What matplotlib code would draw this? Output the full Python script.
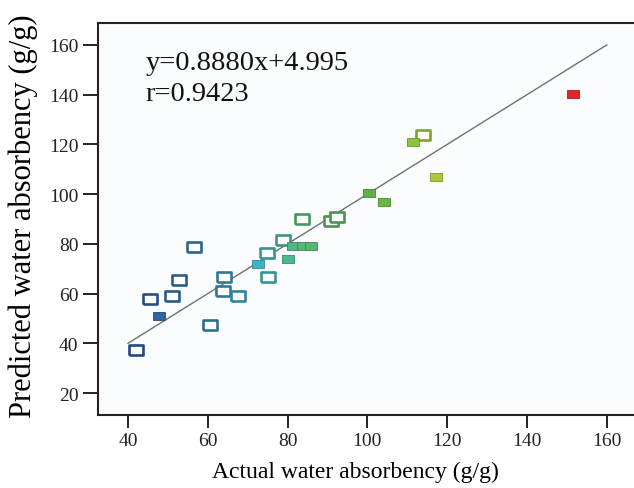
import numpy as np
import matplotlib.pyplot as plt
from matplotlib.colors import LinearSegmentedColormap

# hollow markers (actual, predicted)
hollow_x = [42.0, 45.5, 51.0, 52.9, 56.6, 60.6, 63.7, 64.1, 67.6, 74.8, 75.2,
            78.8, 83.5, 91.0, 92.3, 114.0]
hollow_y = [37.4, 57.8, 59.1, 65.3, 78.9, 47.4, 60.9, 66.5, 59.0, 76.2, 66.8,
            81.5, 90.0, 89.3, 90.9, 123.8]

# filled markers
filled_x = [47.8, 72.7, 80.2, 81.4, 83.8, 85.9, 100.5, 104.2, 111.5, 117.2, 151.4]
filled_y = [51.1, 71.9, 73.9, 79.0, 79.0, 79.0, 100.5, 97.0, 121.1, 107.0, 140.3]

x_ticks = [40, 60, 80, 100, 120, 140, 160]
y_ticks = [20, 40, 60, 80, 100, 120, 140, 160]

plt.rcParams['font.family'] = ['Liberation Serif', 'DejaVu Serif']

cmap = LinearSegmentedColormap.from_list("abs", [
    (0.00, "#2a56a0"),
    (0.17, "#3a86b4"),
    (0.28, "#3fb4c2"),
    (0.37, "#52b87a"),
    (0.54, "#5cb246"),
    (0.68, "#a8cc38"),
    (0.82, "#d07a2c"),
    (1.00, "#e8222a"),
])
lo, hi = 42, 152


def col(v):
    return cmap((v - lo) / (hi - lo))


def darker(c, f=0.82):
    return (c[0] * f, c[1] * f, c[2] * f, 1)


rect = [(-1.45, -1), (1.45, -1), (1.45, 1), (-1.45, 1), (-1.45, -1)]

fig = plt.figure(figsize=(6.34, 4.89), dpi=100)
fig.patch.set_facecolor("white")
ax = fig.add_axes([98 / 634, 1 - 416 / 489, 1 - 98 / 634, (416 - 24) / 489])
ax.set_facecolor("#fbfcfe")

# reference line
ax.plot([40, 160], [40, 160], color="#707070", lw=1.0, zorder=1)

for xv, yv in zip(hollow_x, hollow_y):
    ax.plot(xv, yv, marker=rect, ms=9.6, mfc="white",
            mec=darker(col(xv)), mew=1.9, ls="none", zorder=3)
for xv, yv in zip(filled_x, filled_y):
    ax.plot(xv, yv, marker=rect, ms=8.6, mfc=col(xv),
            mec=darker(col(xv), 0.75), mew=0.6, ls="none", zorder=4)

ax.set_xlim(32.5, 166.8)
ax.set_ylim(11.2, 168.8)
ax.set_xticks(x_ticks)
ax.set_yticks(y_ticks)
ax.tick_params(direction="out", width=1.4, labelsize=14,
               colors="#222222", pad=3)
ax.tick_params(axis="y", length=11)
ax.tick_params(axis="x", length=9)
for s in ["left", "bottom", "top"]:
    ax.spines[s].set_linewidth(1.5)
    ax.spines[s].set_color("#2a2020")
ax.spines["right"].set_visible(False)

ax.set_xlabel("Actual water absorbency (g/g)", fontsize=17, va="center")
ax.xaxis.set_label_coords(0.48, -0.143)
ax.set_ylabel("Predicted water absorbency (g/g)", fontsize=22, va="center")
ax.yaxis.set_label_coords(-0.14, 0.51)

ax.text(0.088, 0.93, "y=0.8880x+4.995\nr=0.9423", transform=ax.transAxes,
        fontsize=20.5, va="top", ha="left", linespacing=1.3, color="#111111")

fig.savefig("out.png", dpi=100)
